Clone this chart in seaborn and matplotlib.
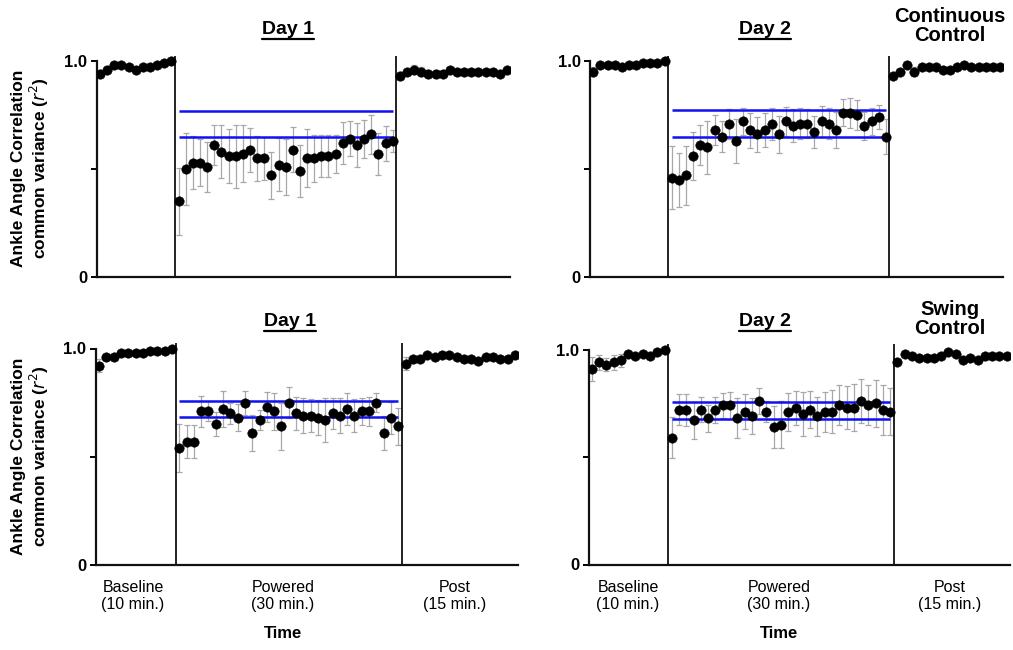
import numpy as np
import pandas as pd
import matplotlib
matplotlib.use("Agg")
import matplotlib.pyplot as plt
import seaborn as sns
from matplotlib.lines import Line2D

sns.set_style("ticks")
plt.rcParams['font.family'] = ['Liberation Sans', 'DejaVu Sans']
plt.rcParams['text.color'] = 'black'
plt.rcParams['ytick.color'] = 'black'
plt.rcParams['xtick.color'] = 'black'
plt.rcParams['axes.labelcolor'] = 'black'

# ---------------- data ----------------
# Continuous control, day 1
cd1_base = [0.94, 0.96, 0.98, 0.98, 0.97, 0.96, 0.97, 0.97, 0.98, 0.99, 1.00]
cd1_base_sd = [0.02, 0.015, 0.01, 0.01, 0.01, 0.01, 0.01, 0.01, 0.01, 0.01, 0.01]
cd1_pow = [0.35, 0.50, 0.53, 0.53, 0.51, 0.61, 0.58, 0.56, 0.56, 0.57, 0.59,
           0.55, 0.55, 0.47, 0.52, 0.51, 0.59, 0.49, 0.55, 0.55, 0.56, 0.56,
           0.57, 0.62, 0.64, 0.61, 0.64, 0.66, 0.57, 0.62, 0.63]
cd1_pow_sd = [0.156, 0.165, 0.123, 0.108, 0.115, 0.092, 0.123, 0.125, 0.146, 0.132, 0.102,
              0.104, 0.100, 0.110, 0.123, 0.130, 0.106, 0.121, 0.134, 0.108, 0.096, 0.096,
              0.088, 0.096, 0.081, 0.102, 0.088, 0.090, 0.096, 0.081, 0.050]
cd1_post = [0.93, 0.95, 0.96, 0.95, 0.94, 0.94, 0.94, 0.96, 0.95, 0.95,
            0.95, 0.95, 0.95, 0.95, 0.94, 0.96]
cd1_post_sd = [0.02, 0.015, 0.02, 0.02, 0.02, 0.02, 0.015, 0.01, 0.015, 0.01,
               0.01, 0.01, 0.01, 0.01, 0.01, 0.01]
cd1_band = [0.767, 0.647]

# Continuous control, day 2
cd2_base = [0.95, 0.98, 0.98, 0.98, 0.97, 0.98, 0.98, 0.99, 0.99, 0.99, 1.00]
cd2_base_sd = [0.02, 0.01, 0.01, 0.01, 0.01, 0.01, 0.01, 0.01, 0.01, 0.01, 0.01]
cd2_pow = [0.46, 0.45, 0.47, 0.56, 0.61, 0.60, 0.68, 0.65, 0.71, 0.63, 0.72,
           0.68, 0.66, 0.68, 0.71, 0.66, 0.72, 0.70, 0.71, 0.71, 0.67, 0.72,
           0.71, 0.68, 0.76, 0.76, 0.75, 0.70, 0.72, 0.74, 0.65]
cd2_pow_sd = [0.147, 0.125, 0.138, 0.112, 0.093, 0.124, 0.071, 0.070, 0.070, 0.100, 0.062,
              0.081, 0.083, 0.079, 0.074, 0.085, 0.066, 0.077, 0.071, 0.067, 0.075, 0.071,
              0.072, 0.083, 0.062, 0.071, 0.068, 0.066, 0.062, 0.057, 0.081]
cd2_post = [0.93, 0.95, 0.98, 0.95, 0.97, 0.97, 0.97, 0.96, 0.96, 0.97,
            0.98, 0.97, 0.97, 0.97, 0.97, 0.97]
cd2_post_sd = [0.015, 0.015, 0.01, 0.02, 0.01, 0.01, 0.01, 0.01, 0.01, 0.01,
               0.01, 0.01, 0.01, 0.01, 0.01, 0.01]
cd2_band = [0.771, 0.650]

# Swing control, day 1
sd1_base = [0.92, 0.96, 0.96, 0.98, 0.98, 0.98, 0.98, 0.99, 0.99, 0.99, 1.00]
sd1_base_sd = [0.03, 0.015, 0.015, 0.01, 0.01, 0.01, 0.01, 0.01, 0.01, 0.01, 0.01]
sd1_pow = [0.54, 0.57, 0.57, 0.71, 0.71, 0.65, 0.72, 0.70, 0.68, 0.75, 0.61,
           0.67, 0.73, 0.71, 0.64, 0.75, 0.70, 0.69, 0.69, 0.68, 0.67, 0.70,
           0.69, 0.72, 0.69, 0.71, 0.71, 0.75, 0.61, 0.68, 0.64]
sd1_pow_sd = [0.110, 0.075, 0.075, 0.072, 0.046, 0.055, 0.082, 0.048, 0.062, 0.056, 0.082,
              0.046, 0.069, 0.085, 0.108, 0.071, 0.077, 0.081, 0.077, 0.081, 0.100, 0.073,
              0.081, 0.074, 0.077, 0.063, 0.068, 0.044, 0.077, 0.075, 0.085]
sd1_post = [0.93, 0.95, 0.95, 0.97, 0.96, 0.97, 0.97, 0.96, 0.95, 0.95,
            0.94, 0.96, 0.96, 0.95, 0.95, 0.97]
sd1_post_sd = [0.03, 0.015, 0.01, 0.01, 0.01, 0.01, 0.01, 0.01, 0.01, 0.01,
               0.01, 0.01, 0.01, 0.01, 0.01, 0.01]
sd1_band = [0.758, 0.682]

# Swing control, day 2
sd2_base = [0.91, 0.94, 0.93, 0.94, 0.95, 0.98, 0.97, 0.98, 0.97, 0.99, 1.00]
sd2_base_sd = [0.055, 0.035, 0.03, 0.035, 0.03, 0.015, 0.015, 0.01, 0.015, 0.01, 0.01]
sd2_pow = [0.59, 0.72, 0.72, 0.67, 0.72, 0.68, 0.72, 0.74, 0.74, 0.68, 0.71,
           0.69, 0.76, 0.71, 0.64, 0.65, 0.71, 0.73, 0.70, 0.72, 0.69, 0.71,
           0.71, 0.74, 0.73, 0.73, 0.76, 0.74, 0.75, 0.72, 0.71]
sd2_pow_sd = [0.095, 0.072, 0.074, 0.085, 0.058, 0.062, 0.060, 0.058, 0.062, 0.093, 0.081,
              0.085, 0.062, 0.049, 0.097, 0.109, 0.088, 0.079, 0.103, 0.087, 0.091, 0.093,
              0.100, 0.093, 0.102, 0.111, 0.102, 0.093, 0.109, 0.116, 0.109]
sd2_post = [0.94, 0.98, 0.97, 0.96, 0.96, 0.96, 0.97, 0.99, 0.98, 0.95,
            0.96, 0.95, 0.97, 0.97, 0.97, 0.97]
sd2_post_sd = [0.01, 0.01, 0.01, 0.01, 0.01, 0.01, 0.01, 0.01, 0.01, 0.01,
               0.01, 0.01, 0.01, 0.01, 0.01, 0.01]
sd2_band = [0.757, 0.679]

phase_labels = ["Baseline\n(10 min.)", "Powered\n(30 min.)", "Post\n(15 min.)"]
day_titles = ["Day 1", "Day 2", "Day 1", "Day 2"]
ylabel = "Ankle Angle Correlation\ncommon variance ($r^2$)"

# ---------------- figure ----------------
W, H = 1013, 650
fig = plt.figure(figsize=(W / 100, H / 100), dpi=100)


def px_axes(left, right, zero, one, top_val=1.03):
    top = zero - (zero - one) * top_val
    return fig.add_axes([left / W, 1 - zero / H, (right - left) / W, (zero - top) / H])


def build(base, base_sd, pw, pw_sd, post, post_sd):
    frames = []
    for phase, v, s, start in [("base", base, base_sd, 0), ("pow", pw, pw_sd, 11),
                               ("post", post, post_sd, 42)]:
        frames.append(pd.DataFrame({"x": np.arange(start, start + len(v)),
                                    "y": v, "sd": s, "phase": phase}))
    return pd.concat(frames, ignore_index=True)


panels = [
    (build(cd1_base, cd1_base_sd, cd1_pow, cd1_pow_sd, cd1_post, cd1_post_sd), cd1_band,
     (97.1, 509.9, 277, 61)),
    (build(cd2_base, cd2_base_sd, cd2_pow, cd2_pow_sd, cd2_post, cd2_post_sd), cd2_band,
     (590.4, 1002.9, 277, 61)),
    (build(sd1_base, sd1_base_sd, sd1_pow, sd1_pow_sd, sd1_post, sd1_post_sd), sd1_band,
     (96.1, 517.9, 565, 348.5)),
    (build(sd2_base, sd2_base_sd, sd2_pow, sd2_pow_sd, sd2_post, sd2_post_sd), sd2_band,
     (588.8, 1009.6, 564.5, 349.5)),
]

axes = []
for df, band, pos in panels:
    ax = px_axes(*pos)
    axes.append(ax)
    ax.errorbar(df["x"], df["y"], yerr=df["sd"], fmt="none", ecolor="#a8a8a8",
                elinewidth=0.9, capsize=2.2, capthick=0.9, zorder=1)
    pw = df[df["phase"] == "pow"]["x"]
    for b in band:
        ax.hlines(b, pw.min(), pw.max(), color="#1010f0", lw=1.8, zorder=2)
    sns.scatterplot(data=df, x="x", y="y", color="black", edgecolor="black",
                    s=46, linewidth=0.4, ax=ax, zorder=3, legend=False)
    ax.vlines([10.5, 41.5], 0, 1.025, color="#111111", lw=1.3, zorder=2)
    ax.set_xlim(-0.4, 57.4)
    ax.set_ylim(0, 1.03)
    ax.set_xticks([])
    ax.set_yticks([0, 0.5, 1.0])
    ax.set_yticklabels(["0", "", "1.0"], fontsize=12, fontweight="bold")
    ax.tick_params(axis="y", direction="out", length=4, width=1.4, pad=3)
    ax.set_xlabel("")
    ax.set_ylabel("")
    sns.despine(ax=ax)
    ax.spines["left"].set_bounds(0, 1.0)
    ax.spines["left"].set_linewidth(1.6)
    ax.spines["bottom"].set_linewidth(1.6)
    ax.spines["left"].set_color("#111111")
    ax.spines["bottom"].set_color("#111111")


def ftext(x, y, s, **kw):
    return fig.text(x / W, 1 - y / H, s, ha="center", va="center", **kw)


# Day titles (underlined)
title_pos = [(288, 29), (765, 29), (290, 321), (765, 321)]
titles = [ftext(x, y, t, fontsize=14, fontweight="bold")
          for (x, y), t in zip(title_pos, day_titles)]

ftext(950, 26, "Continuous\nControl", fontsize=14.5, fontweight="bold", linespacing=1.05)
ftext(950, 319, "Swing\nControl", fontsize=14.5, fontweight="bold", linespacing=1.05)

for yc in (168, 456):
    fig.text(31 / W, 1 - yc / H, ylabel, rotation=90, ha="center", va="center",
             fontsize=12.5, fontweight="bold", linespacing=1.1, multialignment="center")

for x0, xs in [(0, (133, 283, 455)), (1, (628, 779, 950))]:
    for x, lab in zip(xs, phase_labels):
        ftext(x, 596, lab, fontsize=11.5, linespacing=1.2)
    ftext(xs[1], 634, "Time", fontsize=12, fontweight="bold")

fig.canvas.draw()
renderer = fig.canvas.get_renderer()
for t in titles:
    bb = t.get_window_extent(renderer).transformed(fig.transFigure.inverted())
    y_line = bb.y0 - 1.0 / H
    fig.add_artist(Line2D([bb.x0, bb.x1], [y_line, y_line], color="black", lw=1.6,
                          transform=fig.transFigure))

fig.savefig("out.png", dpi=100)
